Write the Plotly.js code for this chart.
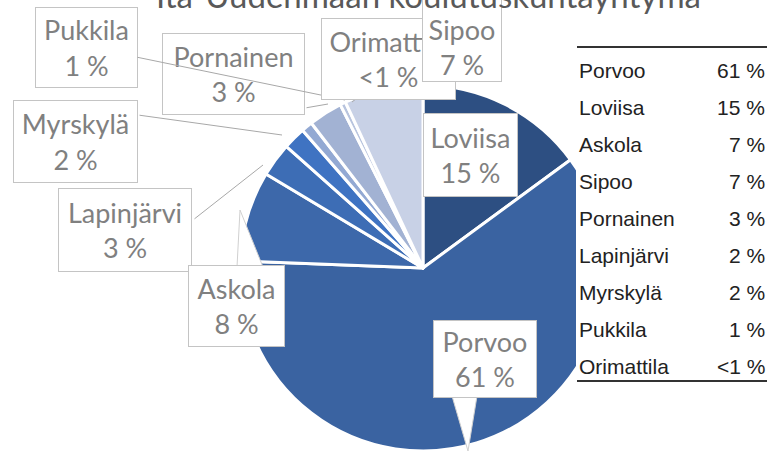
<!DOCTYPE html>
<html>
<head>
<meta charset="utf-8">
<script src="https://cdn.plot.ly/plotly-3.0.1.min.js"></script>
<style>html,body{margin:0;padding:0;background:#fff;}#chart{width:773px;height:457px;}</style>
</head>
<body>
<div id="chart"></div>
<script>
// ---- data ----
const sliceLabels = ['Loviisa','Porvoo','Askola','Lapinjärvi','Myrskylä','Pukkila','Pornainen','Orimattila','Sipoo'];
const sliceValues = [15, 61, 8, 3, 2, 1, 3, 0.5, 7];
const sliceValueText = ['15 %','61 %','8 %','3 %','2 %','1 %','3 %','<1 %','7 %'];
const calloutNames = ['Loviisa','Porvoo','Askola','Lapinjärvi','Myrskylä','Pukkila','Pornainen','Orimattila','Sipoo'];
const tableNames = ['Porvoo','Loviisa','Askola','Sipoo','Pornainen','Lapinjärvi','Myrskylä','Pukkila','Orimattila'];
const tableValues = ['61 %','15 %','7 %','7 %','3 %','2 %','2 %','1 %','<1 %'];
const titleText = 'Itä-Uudenmaan koulutuskuntayhtymä';

// ---- styles / layout ----
const sliceColors = ['#2D4F82','#3A63A1','#3D68AA','#3D6DB5','#3F73C2','#93A9D3','#A2B2D3','#B8C4DE','#C8D1E6'];
const W = 773, H = 457;
const X = p => p / W;
const Y = p => 1 - p / H;

// callout boxes: [x0, x1, y0, y1, valign] in px (layout, not data); drawn in this order
const boxOrder = ['Pukkila','Pornainen','Myrskylä','Lapinjärvi','Askola','Orimattila','Sipoo','Loviisa','Porvoo'];
const boxPos = {
  'Pukkila':    [35, 138, 7, 88, 'middle'],
  'Pornainen':  [162, 305, 33, 115, 'middle'],
  'Myrskylä':   [13, 138, 100, 183, 'middle'],
  'Lapinjärvi': [58, 192, 188, 272, 'middle'],
  'Askola':     [188, 285, 265, 347, 'middle'],
  'Orimattila': [321, 456, 18, 100, 'middle'],
  'Sipoo':      [422, 502, -6, 82, 'bottom'],
  'Loviisa':    [423, 518, 113, 197, 'middle'],
  'Porvoo':     [433, 537, 320, 398, 'middle']
};
// leader lines: [tailX, tailY, tipX, tipY]
const leaders = [
  [136, 57, 345, 100],
  [138, 115, 282, 135],
  [193, 220, 263, 165],
  [305, 108, 328, 104],
  [410, 57, 352, 102]
];
// callout pointers (triangles)
const pointers = [
  [[452, 396], [468, 451], [477, 396]],
  [[237, 267], [240, 210], [263, 267]]
];

const labelFont = {family: 'Lato, "Open Sans", sans-serif', size: 27, color: '#808080'};

const annotations = [];

boxOrder.forEach((name) => {
  const i = sliceLabels.indexOf(name);
  const b = boxPos[name];
  annotations.push({
    text: calloutNames[i] + '<br>' + sliceValueText[i],
    xref: 'paper', yref: 'paper',
    x: X((b[0] + b[1]) / 2), y: Y((b[2] + b[3]) / 2),
    xanchor: 'center', yanchor: 'middle',
    width: b[1] - b[0] - 2, height: b[3] - b[2] - 2,
    showarrow: false, bgcolor: '#ffffff', bordercolor: '#c4c4c4', borderwidth: 1, borderpad: 0,
    align: 'center', valign: b[4], font: labelFont
  });
  if (name === 'Pornainen') {
    // leader lines drawn above the Pornainen box
    leaders.forEach(l => {
      annotations.push({
        text: '', xref: 'paper', yref: 'paper', x: X(l[2]), y: Y(l[3]),
        axref: 'pixel', ayref: 'pixel', ax: l[0] - l[2], ay: l[1] - l[3],
        showarrow: true, arrowhead: 0, arrowwidth: 1, arrowcolor: '#a8a8a8', standoff: 0, startstandoff: 0
      });
    });
  }
});

// table
const rowY0 = 70, rowStep = 37;
const tableFont = {family: '"Liberation Sans", Arial, sans-serif', size: 21, color: '#222222'};
tableNames.forEach((n, i) => {
  annotations.push({text: n, xref: 'paper', yref: 'paper', x: X(577), y: Y(rowY0 + i * rowStep),
    xanchor: 'left', yanchor: 'middle', showarrow: false, font: tableFont});
  annotations.push({text: tableValues[i], xref: 'paper', yref: 'paper', x: X(767), y: Y(rowY0 + i * rowStep),
    xanchor: 'right', yanchor: 'middle', showarrow: false, font: tableFont});
});

// title (cut at the top edge), drawn last
annotations.push({
  text: titleText, xref: 'paper', yref: 'paper', x: X(428), y: 1,
  xanchor: 'center', yanchor: 'bottom', yshift: -17, showarrow: false,
  font: {family: 'Lato, sans-serif', size: 33, color: '#595959'}
});

const shapes = [
  {type: 'rect', xref: 'paper', yref: 'paper', x0: X(576), x1: 1, y0: 0, y1: 1,
   fillcolor: '#ffffff', line: {width: 0}, layer: 'above'},
  {type: 'line', xref: 'paper', yref: 'paper', x0: X(577), x1: X(767), y0: Y(47), y1: Y(47),
   line: {color: '#333333', width: 2}, layer: 'above'},
  {type: 'line', xref: 'paper', yref: 'paper', x0: X(577), x1: X(767), y0: Y(381), y1: Y(381),
   line: {color: '#333333', width: 2}, layer: 'above'}
];
pointers.forEach(p => {
  const path = 'M ' + p.map(q => X(q[0]) + ',' + Y(q[1])).join(' L ') + ' Z';
  shapes.push({type: 'path', xref: 'paper', yref: 'paper', path: path,
    fillcolor: '#ffffff', line: {color: '#d0d0d0', width: 1}, layer: 'above'});
});

const trace = {
  type: 'pie', labels: sliceLabels, values: sliceValues,
  sort: false, direction: 'clockwise', rotation: 0,
  textinfo: 'none', hoverinfo: 'none',
  marker: {colors: sliceColors, line: {color: '#ffffff', width: 3}},
  domain: {x: [X(240), X(606)], y: [Y(451), Y(85)]},
  showlegend: false
};

const layout = {
  width: W, height: H, margin: {l: 0, r: 0, t: 0, b: 0},
  paper_bgcolor: '#ffffff', plot_bgcolor: '#ffffff',
  showlegend: false, annotations: annotations, shapes: shapes
};

Plotly.newPlot('chart', [trace], layout, {displayModeBar: false, staticPlot: true});
</script>
</body>
</html>
